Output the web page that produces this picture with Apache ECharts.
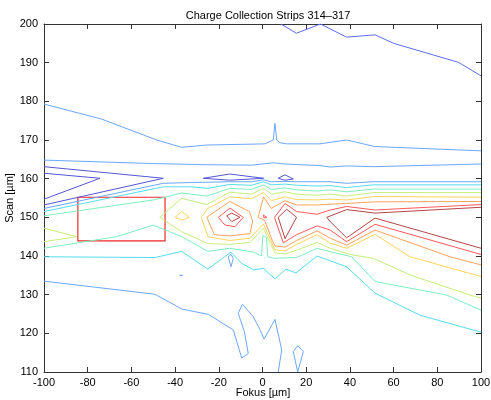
<!DOCTYPE html>
<html>
<head>
<meta charset="utf-8">
<script src="https://cdn.jsdelivr.net/npm/echarts@6/dist/echarts.min.js"></script>
<style>
  html, body { margin: 0; padding: 0; background: #fff; }
  #chart { width: 491px; height: 400px; }
</style>
</head>
<body>
<div id="chart"></div>
<script>
// Axis ranges and tick steps (µm)
const xRange = [-100, 100];
const yRange = [110, 200];
const xStep = 20;
const yStep = 10;

// Contour level colours (low -> high, jet-like)
const levelColors = ['#5656d6', '#5a6ef2', '#6aa8ff', '#56dcee', '#7cefc0',
                     '#c6ee7a', '#ffd35a', '#ffa25a', '#ff5a5a', '#b84646'];

// ---- Contour paths, [Fokus, Scan] in µm ----
// level 0: trough wedges at the left edge and islands near 160
const wedgeOuter = [[-100,163.1],[-45.4,160.1],[-100,153.2]];
const wedgeInner = [[-100,161.4],[-74.4,160.1],[-100,154.7]];
const islandA = [[-27.1,160.1],[-15,161.2],[0.5,160.1],[-15,159.6],[-27.1,160.1]];
const islandB = [[7.2,160.1],[10.3,161],[14.1,159.9],[10.3,159.6],[7.2,160.1]];
// level 1: top of the scan
const topLine = [[8.5,200],[15.5,197.6],[26.5,200],[38.5,196.6],[51.5,197.2],[60,195],[89.6,190.1],[100,186.6]];
// level 2
const blueUpper = [[-100,179.3],[-73.6,175.4],[-48.4,170],[-37,168.1],[-25.5,168.7],[1.1,169],[4.9,170],[5.7,174.3],[6.5,170],[8,169.3],[11,169],[26.3,169],[38.5,170],[51.5,168.3],[100,167.2]];
const blueMid = [[-100,164.8],[-50,163.9],[-25,163.6],[-5,163.5],[5,164.1],[10,163.8],[26,163.4],[31,163],[38.5,163.3],[50.7,163.1],[100,163.8]];
const blueRidge = [[-100,152.3],[-45.4,158.8],[-33,159],[-15,159.2],[-5,159.2],[0.5,159.7],[4,159.2],[10.3,159.3],[15.6,159.2],[30.9,159.2],[38.5,158.8],[50.7,159.2],[100,159.2]];
const blueLower = [[-100,133.5],[-49.2,130.1],[-37,126.3],[-24.8,124.9],[-13.4,120.9],[-9.5,113.6],[-6.5,114.8],[-8.3,120.4],[-11.1,125.2],[-9.2,127.5],[-4.2,124.3],[-1.1,120.9],[0.7,118.5],[5.7,123.6],[8.8,115.7],[7.2,110]];
const bluePocket = [[-15.7,139.8],[-14.4,140.4],[-13.4,139.4],[-14.4,137.2],[-15.7,139.8]];
const blueSpeck = [[-37.9,135],[-37.2,135.5],[-36.6,135],[-37.2,134.6],[-37.9,135]];
const blueLoop = [[14.1,115.3],[16.1,116.8],[18.7,115.3],[16.1,110],[14.1,115.3]];
// level 3
const cyanUpper = [[-100,151.5],[-45.4,157.9],[-33,157.9],[-25,157.5],[-15,158.5],[-5,158.3],[0.5,159.2],[4,158.4],[10.3,158.6],[15.6,158.3],[25,158.1],[30.9,158.2],[38.5,157.7],[50.7,158.4],[100,158.4]];
const cyanLower = [[-100,139.8],[-49.2,139.6],[-37,141.2],[-25,136.6],[-14.5,141],[-9.5,138.1],[-4,136.4],[0.4,136.8],[5.7,134.1],[10.8,136.6],[15.3,135.6],[25,140],[38.5,137.2],[51.5,130.4],[72,124.7],[100,120.3]];
// level 4
const aquaUpper = [[-100,150.4],[-50,154.5],[-44.6,155.2],[-37,156.3],[-25.5,155.5],[-15,157.5],[-5,157.2],[0.5,158.4],[4,157.2],[10.3,157.6],[15.6,157.1],[25,156.8],[31,157.1],[38.5,156.6],[51,157.3],[100,157.3]];
const aquaLower = [[-100,142],[-66.7,145],[-50,148],[-37,145],[-25,141.2],[-15,142],[-4,141],[-0.5,140],[0.2,145.3],[1,145.7],[1.8,144.8],[2.4,139.8],[5.7,139.4],[10.3,139.5],[15.6,139.6],[25,142],[31,141.1],[40.8,139.8],[51.5,133.4],[84.3,129.9],[100,126]];
// level 5
const limeWedge = [[-100,147.2],[-85,145],[-100,143.7]];
const limeRidge = [[100,156.4],[51,156.4],[38.5,155.5],[31,156],[25,155.7],[15.6,156],[10.3,156.6],[4,156],[0.5,157.5],[-5,156],[-15,156.5],[-25.5,153.3],[-37,154.9],[-47,150],
                   [-37,146.3],[-25,143.2],[-15,143],[-5.7,143.5],[0.4,147.2],[5.7,140.8],[10.3,140.5],[15.6,141.5],[25,143.5],[31,142],[40,140.4],[50.7,139.4],[67.5,135.1],[95,129.9],[100,129.1]];
// level 6
const yellowPeak = [[-40,150],[-37,151.5],[-33.5,150],[-37,149.3],[-40,150]];
const yellowRidge = [[100,155.2],[51.5,155.4],[38.5,154.5],[31,154.7],[25,154.5],[15.6,154.6],[10.3,155.3],[4,154.3],[0.5,156.4],[-5,154.8],[-15,155.3],[-25,152.3],[-28,150],
                     [-25,145],[-15,144],[-5.7,144.6],[0.4,148.3],[5.7,141.6],[10.3,141.3],[15.6,143],[25,145.5],[31,143.3],[38.5,142],[51.5,145.6],[67.5,139.8],[100,134.7]];
// level 7
const orangePeak = [[-25.5,150],[-15,154.1],[-6,151.5],[-4.5,149],[-5.7,145.8],[-15,145.2],[-22,145.5],[-25.5,150]];
const orangeRidge = [[100,154.1],[51.5,154],[38.5,153.6],[31,153.4],[25,153.2],[15.6,153.2],[10.3,154.3],[4,152.3],[0.5,155.3],[-2,150],
                     [1,149.2],[4.5,144],[5.7,142.6],[10.3,142.3],[15.6,144],[25,146.5],[31,144.6],[38.5,142.8],[51.5,146.7],[85.8,139.8],[100,137.7]];
// level 8
const redPeak = [[-20.2,150],[-14.9,152.4],[-8.8,150],[-12.6,147.6],[-17.2,148],[-20.2,150]];
const redSpot = [[0.4,150.6],[1.9,150],[0.7,149.8],[0.4,150.6]];
const redRidge = [[100,153.3],[51.5,151.9],[38.5,152.8],[31,151.9],[25,150.8],[15.6,151.5],[10.3,153.6],[5.5,150],
                  [9.5,143.4],[15.6,145.5],[25,147.8],[31,146.7],[38.5,143.7],[51.5,148.2],[100,140.4]];
// level 9
const maroonPeak = [[-16.4,150.4],[-14.1,151.1],[-10.3,150],[-14.1,148.9],[-16.4,150.4]];
const maroonCore = [[7.2,150],[11.1,152.1],[15.6,150],[10.3,144.5],[7.2,150]];
const maroonRidge = [[100,152.6],[51.5,151.1],[38.5,152],[29.4,150],[31,148.9],[38.5,144.7],[51.5,149.8],[100,142]];

// Region of interest box: Fokus range, Scan range
const roiFokus = [-84.5, -44.6];
const roiScan = [143.9, 155.2];

const contourSet = [
  [wedgeOuter, 0], [wedgeInner, 0], [islandA, 0], [islandB, 0],
  [topLine, 1],
  [blueUpper, 2], [blueMid, 2], [blueRidge, 2], [blueLower, 2], [bluePocket, 2], [blueSpeck, 2], [blueLoop, 2],
  [cyanUpper, 3], [cyanLower, 3],
  [aquaUpper, 4], [aquaLower, 4],
  [limeWedge, 5], [limeRidge, 5],
  [yellowPeak, 6], [yellowRidge, 6],
  [orangePeak, 7], [orangeRidge, 7],
  [redPeak, 8], [redSpot, 8], [redRidge, 8],
  [maroonPeak, 9], [maroonCore, 9], [maroonRidge, 9]
];

const FONT = '"Liberation Sans", Arial, Helvetica, sans-serif';
const axisColor = '#333';
const labelStyle = { fill: '#000', font: '11px "Liberation Sans", Arial, sans-serif', align: 'center', verticalAlign: 'middle' };

const series = contourSet.map(([pts, lvl]) => ({
  type: 'line',
  data: pts,
  showSymbol: false,
  silent: true,
  lineStyle: { color: levelColors[lvl], width: 1 },
  z: 2 + lvl * 0.01
}));

series.push({
  type: 'line',
  data: [],
  silent: true,
  markArea: {
    silent: true,
    itemStyle: { color: 'rgba(0,0,0,0)', borderColor: '#f02828', borderWidth: 1.2 },
    data: [[{ coord: [roiFokus[0], roiScan[1]] }, { coord: [roiFokus[1], roiScan[0]] }]]
  },
  z: 5
});

function xAxisDef(pos, showLabels) {
  return {
    type: 'value', position: pos, min: xRange[0], max: xRange[1], interval: xStep,
    axisLine: { show: true, onZero: false, lineStyle: { color: axisColor, width: 1 } },
    axisTick: { show: true, inside: true, length: 5, lineStyle: { color: axisColor } },
    axisLabel: { show: showLabels, margin: 5, color: '#000', fontFamily: FONT, fontSize: 11 },
    splitLine: { show: false }
  };
}
function yAxisDef(pos, showLabels) {
  return {
    type: 'value', position: pos, min: yRange[0], max: yRange[1], interval: yStep,
    axisLine: { show: true, onZero: false, lineStyle: { color: axisColor, width: 1 } },
    axisTick: { show: true, inside: true, length: 5, lineStyle: { color: axisColor } },
    axisLabel: { show: showLabels, margin: 6, color: '#000', fontFamily: FONT, fontSize: 11 },
    splitLine: { show: false }
  };
}

const chart = echarts.init(document.getElementById('chart'), null, { renderer: 'canvas' });
chart.setOption({
  animation: false,
  backgroundColor: '#fff',
  title: {
    text: 'Charge Collection Strips 314–317',
    left: 263, top: 5, textAlign: 'center',
    textStyle: { fontFamily: FONT, fontSize: 11, fontWeight: 'normal', color: '#000' }
  },
  grid: { left: 44, right: 10, top: 24, bottom: 28, containLabel: false, outerBoundsMode: 'none' },
  xAxis: [xAxisDef('bottom', true), xAxisDef('top', false)],
  yAxis: [yAxisDef('left', true), yAxisDef('right', false)],
  graphic: [
    { type: 'text', x: 263, y: 393, style: Object.assign({ text: 'Fokus [µm]' }, labelStyle) },
    { type: 'text', x: 10, y: 198, rotation: Math.PI / 2, style: Object.assign({ text: 'Scan [µm]' }, labelStyle) }
  ],
  series: series
});
</script>
</body>
</html>
